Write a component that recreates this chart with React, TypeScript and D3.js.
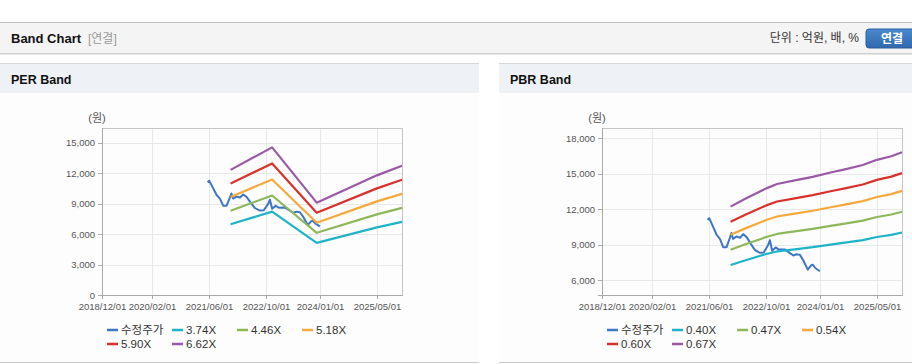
import React from 'react';
import * as d3 from 'd3';

// ---------- data ----------
const X_DOMAIN = ['2018-12-01', '2025-12-01'];
const X_TICKS = ['2018-12-01', '2020-02-01', '2021-06-01', '2022-10-01', '2024-01-01', '2025-05-01'];

const PRICE_LABEL = '수정주가';
const PRICE_DATES = [
  '2021-05-19', '2021-06-02', '2021-07-06', '2021-08-04', '2021-09-01', '2021-09-29', '2021-10-28',
  '2021-11-25', '2021-12-08', '2021-12-22', '2022-01-20', '2022-02-19', '2022-03-19', '2022-04-17',
  '2022-05-21', '2022-06-27', '2022-08-08', '2022-09-10', '2022-10-18', '2022-11-01', '2022-11-20',
  '2022-12-20', '2023-01-17', '2023-03-09', '2023-04-21', '2023-05-20', '2023-06-17', '2023-07-15',
  '2023-08-12', '2023-09-20', '2023-10-20', '2023-11-01', '2023-11-25', '2024-01-01',
];
const PRICE_VALUES = [
  11100, 11250, 10500, 9850, 9500, 8800, 8800,
  9600, 10000, 9500, 9700, 9600, 9900, 9650,
  9100, 8550, 8320, 8350, 9000, 9400, 8500,
  8780, 8600, 8610, 8300, 8100, 8210, 8150,
  7700, 6900, 7280, 7320, 7020, 6770,
];

// PER band: EPS (원) at each date, multiplied by the band multiples
const PER_DATES = ['2021-12-01', '2022-11-20', '2023-12-05', '2025-05-01', '2025-12-01'];
const PER_EPS = [1862, 2197, 1374, 1780, 1924];
const PER_MULTIPLES = [3.74, 4.46, 5.18, 5.9, 6.62];
const PER_LABELS = ['3.74X', '4.46X', '5.18X', '5.90X', '6.62X'];
const PER_Y_TICKS = [0, 3000, 6000, 9000, 12000, 15000];
const PER_Y_DOMAIN = [0, 16450];

// PBR band: BPS (원) at each date
const PBR_DATES = [
  '2021-12-01', '2022-04-01', '2022-10-01', '2023-01-01', '2023-06-01', '2023-11-01',
  '2024-04-01', '2024-08-01', '2025-01-01', '2025-05-01', '2025-09-01', '2025-12-01',
];
const PBR_BPS = [18250, 19200, 20550, 21100, 21550, 22000, 22550, 22950, 23500, 24150, 24600, 25100];
const PBR_MULTIPLES = [0.4, 0.47, 0.54, 0.6, 0.67];
const PBR_LABELS = ['0.40X', '0.47X', '0.54X', '0.60X', '0.67X'];
const PBR_Y_TICKS = [6000, 9000, 12000, 15000, 18000];
const PBR_Y_DOMAIN = [4760, 18870];

const PRICE_COLOR = '#3b77c5';
const BAND_COLORS = ['#1db3c9', '#8db85a', '#f6a93b', '#d8302b', '#9a58a6'];

// ---------- rendering ----------
const FONT = '"Liberation Sans", Arial, "Noto Sans CJK KR", sans-serif';
const parse = d3.timeParse('%Y-%m-%d');
const fmtDate = d3.timeFormat('%Y/%m/%d');
const fmtNum = d3.format(',');

type ChartProps = {
  ox: number;
  yDomain: number[];
  yTicks: number[];
  bandDates: string[];
  bandBase: number[];
  multiples: number[];
  labels: string[];
};

function BandChart({ ox, yDomain, yTicks, bandDates, bandBase, multiples, labels }: ChartProps) {
  const left = ox + 102, right = ox + 402, top = 128, bottom = 295;
  const x = d3.scaleTime().domain(X_DOMAIN.map((d) => parse(d) as Date)).range([left, right]);
  const y = d3.scaleLinear().domain(yDomain).range([bottom, top]);

  const line = d3
    .line<[Date, number]>()
    .x((d) => x(d[0]))
    .y((d) => y(d[1]));

  const pricePts: [Date, number][] = PRICE_DATES.map((d, i) => [parse(d) as Date, PRICE_VALUES[i]]);
  const bands = multiples.map((m) =>
    bandDates.map((d, i) => [parse(d) as Date, bandBase[i] * m] as [Date, number])
  );

  const legendItems = [{ label: PRICE_LABEL, color: PRICE_COLOR }].concat(
    labels.map((l, i) => ({ label: l, color: BAND_COLORS[i] }))
  );

  return (
    <g>
      {/* grid */}
      {yTicks.map((t) => (
        <line key={'gy' + t} x1={left} x2={right} y1={Math.round(y(t)) + 0.5} y2={Math.round(y(t)) + 0.5} stroke="#e8e8e8" />
      ))}
      {X_TICKS.map((t) => {
        const xx = Math.round(x(parse(t) as Date)) + 0.5;
        return <line key={'gx' + t} x1={xx} x2={xx} y1={top} y2={bottom} stroke="#e8e8e8" />;
      })}
      {/* frame */}
      <rect x={left + 0.5} y={top + 0.5} width={right - left} height={bottom - top} fill="none" stroke="#c4c4c4" />
      <line x1={left + 0.5} x2={left + 0.5} y1={top} y2={bottom + 4} stroke="#a9a9a9" />
      <line x1={left - 4} x2={right + 1} y1={bottom + 0.5} y2={bottom + 0.5} stroke="#a9a9a9" />
      {/* y ticks */}
      {yTicks.map((t) => (
        <g key={'ty' + t}>
          <line x1={left - 4} x2={left} y1={Math.round(y(t)) + 0.5} y2={Math.round(y(t)) + 0.5} stroke="#a9a9a9" />
          <text x={left - 7} y={y(t) + 3.5} textAnchor="end" fontSize={9.5} fill="#555" fontFamily={FONT}>
            {fmtNum(t)}
          </text>
        </g>
      ))}
      {/* x ticks */}
      {X_TICKS.map((t) => {
        const xx = Math.round(x(parse(t) as Date)) + 0.5;
        return (
          <g key={'tx' + t}>
            <line x1={xx} x2={xx} y1={bottom} y2={bottom + 4} stroke="#a9a9a9" />
            <text x={xx} y={310} textAnchor="middle" fontSize={9.5} fill="#555" fontFamily={FONT}>
              {fmtDate(parse(t) as Date)}
            </text>
          </g>
        );
      })}
      <text x={ox + 97} y={122} textAnchor="middle" fontSize={11} fill="#555" fontFamily={FONT}>
        (원)
      </text>
      {/* series */}
      <path d={line(pricePts) || ''} fill="none" stroke={PRICE_COLOR} strokeWidth={2} strokeLinejoin="round" />
      {bands.map((b, i) => (
        <path key={'b' + i} d={line(b) || ''} fill="none" stroke={BAND_COLORS[i]} strokeWidth={2.2} strokeLinejoin="round" />
      ))}
      {/* legend */}
      {legendItems.map((it, i) => {
        const col = i % 4;
        const row = Math.floor(i / 4);
        const lx = ox + 107 + col * 65;
        const ly = 330 + row * 14;
        return (
          <g key={'lg' + i}>
            <line x1={lx} x2={lx + 11} y1={ly} y2={ly} stroke={it.color} strokeWidth={2.5} />
            <text x={lx + 14} y={ly + 4} fontSize={11.5} fill="#333" fontFamily={FONT}>
              {it.label}
            </text>
          </g>
        );
      })}
    </g>
  );
}

export default function App() {
  return (
    <svg
      width={912}
      height={364}
      style={{ position: 'absolute', left: 0, top: 0, display: 'block' }}
      fontFamily={FONT}
    >
      <defs>
        <linearGradient id="btn" x1="0" y1="0" x2="0" y2="1">
          <stop offset="0" stopColor="#4a89cf" />
          <stop offset="1" stopColor="#2f68ad" />
        </linearGradient>
      </defs>
      <rect x={0} y={0} width={912} height={364} fill="#ffffff" />
      {/* top header */}
      <rect x={0} y={22} width={912} height={31} fill="#f4f4f4" />
      <line x1={0} x2={912} y1={22.5} y2={22.5} stroke="#bdbdbd" />
      <line x1={0} x2={912} y1={53.5} y2={53.5} stroke="#cfcfcf" />
      <line x1={0} x2={912} y1={54.5} y2={54.5} stroke="#e8e8e8" />
      <text x={11} y={43} fontSize={13} fontWeight="bold" fill="#111">
        Band Chart
      </text>
      <text x={88} y={43} fontSize={12} fill="#999">
        [연결]
      </text>
      <text x={859} y={42} textAnchor="end" fontSize={12} fill="#333">
        단위 : 억원, 배, %
      </text>
      <rect x={866} y={29} width={52} height={19} rx={3} fill="url(#btn)" stroke="#2c5f9e" />
      <text x={892} y={43} textAnchor="middle" fontSize={12} fontWeight="bold" fill="#fff">
        연결
      </text>

      {/* panels */}
      {[
        { x: 0, w: 479, title: 'PER Band' },
        { x: 499, w: 413, title: 'PBR Band' },
      ].map((p) => (
        <g key={p.title}>
          <rect x={p.x} y={93} width={p.w} height={269} fill="#fdfdfd" />
          <rect x={p.x} y={63} width={p.w} height={30} fill="#eef2f7" />
          <line x1={p.x} x2={p.x + p.w} y1={63.5} y2={63.5} stroke="#d6d6d6" />
          <line x1={p.x} x2={p.x + p.w} y1={362.5} y2={362.5} stroke="#c8c8c8" />
          <text x={p.x + 11} y={84} fontSize={12.5} fontWeight="bold" fill="#111">
            {p.title}
          </text>
        </g>
      ))}

      <BandChart
        ox={0}
        yDomain={PER_Y_DOMAIN}
        yTicks={PER_Y_TICKS}
        bandDates={PER_DATES}
        bandBase={PER_EPS}
        multiples={PER_MULTIPLES}
        labels={PER_LABELS}
      />
      <BandChart
        ox={500}
        yDomain={PBR_Y_DOMAIN}
        yTicks={PBR_Y_TICKS}
        bandDates={PBR_DATES}
        bandBase={PBR_BPS}
        multiples={PBR_MULTIPLES}
        labels={PBR_LABELS}
      />
    </svg>
  );
}
